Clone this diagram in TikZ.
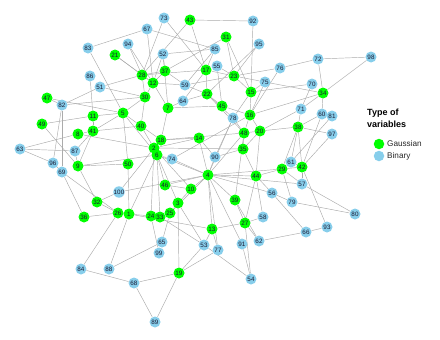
\documentclass[tikz,border=0pt]{standalone}
\usepackage{fontspec}
\setmainfont{Liberation Sans}
\usetikzlibrary{positioning, backgrounds}
\definecolor{gauss}{HTML}{00FF00}
\definecolor{binary}{HTML}{87CEEB}
\definecolor{edgegray}{HTML}{ABABAB}
\definecolor{ink}{HTML}{1A1A33}
\tikzset{
  font=\fontsize{6.3}{7}\selectfont,
  %
  vtx/.style={circle, inner sep=0pt, minimum size=11pt, text=ink},
  vg/.style={vtx, fill=gauss},
  vb/.style={vtx, fill=binary},
  %
  link/.style={draw=edgegray, line width=0.45pt},
  %
  legdot/.style={circle, inner sep=0pt, minimum size=10.5pt},
  legtext/.style={font=\fontsize{8.2}{9}\selectfont, text=black!85, inner sep=1pt},
}

\begin{document}
\begin{tikzpicture}[x=1pt, y=-1pt]

  \useasboundingbox (0,0) rectangle (440,340);

  % Gaussian variables
  \foreach \n/\x/\y in {1/129/214, 2/154/148, 3/178/203, 4/208/175, 5/123/113,
      6/157/155, 7/168/108, 8/78/134, 9/78/166, 10/191/189, 11/93/116,
      12/153/83, 13/212/229, 14/199/138, 15/251/92, 16/250/115, 17/206/70,
      18/161/140, 19/179/273, 20/260/131, 21/115/55, 22/207/94, 23/234/76,
      24/151/216, 25/170/213, 26/118/213, 27/245/223, 28/142/75, 29/282/169,
      30/145/97, 31/226/37, 32/97/202, 33/160/217, 34/323/93, 35/243/149,
      36/84/217, 37/165/71, 38/298/127, 39/235/200, 40/141/126, 41/93/131,
      42/302/167, 43/190/20, 44/256/176, 45/222/106, 46/165/185, 47/47/98,
      48/244/133, 49/42/124, 50/128/164}
    \node[vg] (v\n) at (\x,\y) {\n};

  % binary variables
  \foreach \n/\x/\y in {51/100/87, 52/163/54, 53/204/245, 54/251/279,
      55/217/66, 56/272/193, 57/302/184, 58/263/217, 59/185/85, 60/322/114,
      61/291/162, 62/259/241, 63/20/149, 64/183/101, 65/162/242, 66/306/232,
      67/147/29, 68/134/283, 69/62/172, 70/312/84, 71/301/109, 72/318/59,
      73/164/18, 74/172/159, 75/265/82, 76/280/68, 77/218/250, 78/233/118,
      79/292/202, 80/355/214, 81/332/116, 82/62/105, 83/88/48, 84/81/269,
      85/215/49, 86/90/76, 87/75/151, 88/109/269, 89/155/322, 90/215/157,
      91/242/244, 92/253/21, 93/327/227, 94/128/44, 95/259/44, 96/53/163,
      97/332/134, 98/371/57, 99/159/253, 100/119/192}
    \node[vb] (v\n) at (\x,\y) {\n};

  \begin{scope}[on background layer]
    \foreach \a/\b in {67/83, 83/5, 67/12, 67/85, 94/28, 94/12, 21/28, 21/12,
        73/28, 73/17, 43/92, 43/28, 43/17, 92/15, 52/12, 52/37, 52/7, 52/85,
        31/37, 31/23, 31/15, 85/59, 85/17, 95/23, 95/22, 55/17, 55/45, 55/23,
        17/28, 17/23, 17/22, 17/64, 28/37, 28/30, 28/12, 37/12, 37/59,
        12/30, 12/7, 12/59, 59/22, 59/23, 64/7, 64/22, 22/45, 22/48, 22/78,
        23/15, 23/75, 23/76, 75/15, 75/16, 76/72, 76/16, 72/98, 72/34, 98/34,
        70/15, 70/71, 34/16, 34/60, 34/71, 34/75, 15/16, 15/78, 16/48, 16/20,
        16/45, 78/48, 78/90, 78/4, 45/7, 71/20, 71/38, 60/38, 60/42, 81/61,
        97/38, 97/42, 38/42, 38/61, 38/20, 38/29, 20/35, 20/44, 20/48,
        48/35, 48/4, 48/39, 35/44, 35/2, 61/29, 61/42, 29/42, 29/44, 29/57,
        29/79, 42/57, 42/93, 44/4, 44/56, 44/58, 44/27, 56/79, 56/66, 56/4,
        79/80, 57/80, 57/4, 66/93, 66/62, 58/27, 62/27, 62/39, 27/39, 27/13,
        27/54, 91/54, 91/4, 54/53, 53/19, 53/3, 53/13, 53/33, 77/19, 77/4,
        77/13, 13/4, 13/1, 19/89, 19/3, 19/68, 68/89, 68/84, 88/1, 88/65,
        84/26, 36/26, 36/69, 26/1, 26/32, 26/69, 1/24, 1/50, 1/6, 32/100,
        32/9, 100/4, 100/2, 24/33, 24/2, 24/99, 33/25, 33/6, 25/3, 25/4,
        25/65, 3/10, 3/6, 10/4, 10/46, 10/2, 46/6, 46/4, 4/90, 4/14, 4/74,
        4/6, 4/39, 4/29, 90/35, 90/14, 14/2, 14/18, 18/2, 18/7, 18/40,
        18/48, 2/6, 2/40, 6/74, 6/5, 74/16, 50/5, 50/9, 9/87, 9/41, 9/6,
        9/49, 87/41, 87/63, 96/63, 96/69, 96/82, 63/8, 69/82, 49/11, 8/41,
        8/2, 41/11, 41/5, 41/40, 11/5, 47/5, 47/82, 82/30, 5/40, 5/30,
        86/11, 51/30, 51/28, 51/82, 40/30}
      \draw[link] (v\a) -- (v\b);
  \end{scope}

  % legend
  \node[font=\fontsize{9}{11.5}\selectfont\bfseries, align=left, anchor=west,
        inner sep=0pt] (legtitle) at (367,118.5) {Type of\\variables};
  \node[legdot, fill=gauss] (leggauss) at (379,144) {};
  \node[legdot, fill=binary] (legbinary) at (379,156) {};
  \node[legtext, right=1.5pt of leggauss] {Gaussian};
  \node[legtext, right=1.5pt of legbinary] {Binary};

\end{tikzpicture}
\end{document}
